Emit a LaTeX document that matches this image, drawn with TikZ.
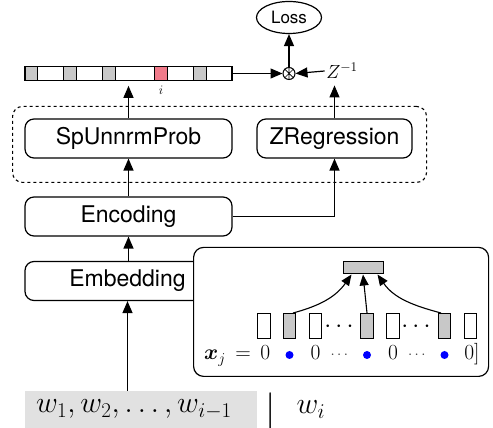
\RequirePackage{fix-cm}
\documentclass[tikz,border=0pt]{standalone}
\usepackage{amsmath}
\usepackage{fontspec}
\setsansfont{TeX Gyre Heros}
\usetikzlibrary{arrows.meta,shapes.geometric}
\definecolor{cellpink}{RGB}{240,122,138}
\definecolor{cellgray}{RGB}{200,200,200}
\definecolor{wordgray}{RGB}{225,225,225}
\begin{document}
\begin{tikzpicture}[x=1pt,y=1pt,
  box/.style={draw, line width=1.2pt, rounded corners=9pt, minimum height=39pt, inner sep=0pt, font=\sffamily\fontsize{23}{27}\selectfont},
  arr/.style={line width=1.2pt, -{Triangle[length=12pt,width=10pt]}},
  sarr/.style={line width=1.1pt, -{Triangle[length=11pt,width=9pt]}},
  cell/.style={draw, line width=1pt, minimum width=12.5pt, minimum height=25pt, inner sep=0pt},
  mth/.style={font=\fontsize{21.5}{21.5}\selectfont, inner sep=0pt},
  sdots/.style={font=\fontsize{15}{15}\selectfont, inner sep=0pt, text=black!75},
  bdot/.style={circle, fill=blue, minimum size=8pt, inner sep=0pt}]
\useasboundingbox (0,0) rectangle (493,428);

% input words
\node[fill=wordgray, minimum width=232pt, minimum height=37pt, inner sep=0pt, font=\fontsize{30}{30}\selectfont] (words) at (141,18.5) {\hspace*{-14pt}$w_1, w_2, \ldots, w_{i-1}$};
\node[font=\fontsize{37}{37}\selectfont, inner sep=0pt] (midbar) at (271,17) {$|$};
\node[font=\fontsize{30}{30}\selectfont, inner sep=0pt, anchor=base] (wi) at (311,14) {$w_i$};

% embedding
\node[box, minimum width=205pt] (emb) at (127.5,147) {Embedding};
\draw[arr] (emb.south |- words.north) -- (emb.south);

% inset
\node[draw, fill=white, line width=1.2pt, rounded corners=10pt, minimum width=295pt, minimum height=129pt, inner sep=0pt, anchor=south west] (inset) at (193,51) {};
\node[draw, fill=cellgray, line width=1pt, minimum width=40pt, minimum height=12pt, inner sep=0pt] (top) at (363,160) {};
\node[cell] (c1) at (264,102) {};
\node[cell, fill=cellgray] (c2) at (289.5,102) {};
\node[cell] (c3) at (315.5,102) {};
\node[cell, fill=cellgray] (c4) at (367,102) {};
\node[cell] (c5) at (393,102) {};
\node[cell, fill=cellgray] (c6) at (444.5,102) {};
\node[cell] (c7) at (470.5,102) {};
\node[font=\fontsize{25}{25}\selectfont, inner sep=0pt, anchor=base] (d1) at (341,95) {$\cdots$};
\node[font=\fontsize{25}{25}\selectfont, inner sep=0pt, anchor=base] (d2) at (418,95) {$\cdots$};
\draw[sarr] ([xshift=3.5pt]c2.north) to[out=15,in=235] ([xshift=9pt]top.south west);
\draw[sarr] (c4.north) -- (top.south);
\draw[sarr] ([xshift=-3.5pt]c6.north) to[out=165,in=305] ([xshift=-6pt]top.south east);
\node[mth, anchor=base east] (xj) at (270.5,68) {$\boldsymbol{x}_j \,=\, 0$};
\node[bdot] (b1) at (289.5,73) {};
\node[mth, anchor=base] (z1) at (315.5,68) {$0$};
\node[sdots] (e1) at (340.5,73) {$\cdots$};
\node[bdot] (b2) at (367,73) {};
\node[mth, anchor=base] (z2) at (393,68) {$0$};
\node[sdots] (e2) at (418,73) {$\cdots$};
\node[bdot] (b3) at (444.5,73) {};
\node[mth, anchor=base] (z3) at (472,68) {$0]$};

% encoding
\node[box, minimum width=207pt] (enc) at (128.5,211.5) {Encoding};
\draw[arr] (enc.south |- emb.north) -- (enc.south);

% group
\node[draw, line width=1.1pt, dash pattern=on 3pt off 3pt, rounded corners=10pt, minimum width=414pt, minimum height=76pt, inner sep=0pt, anchor=south west] (grp) at (12,245) {};
\node[box, minimum width=207pt] (sp) at (128.5,289.5) {SpUnnrmProb};
\node[box, minimum width=155pt] (zr) at (334.5,289.5) {ZRegression};
\draw[arr] (enc.north) -- (sp.south);
\draw[arr] (enc.east) -| (zr.south);

% output bar
\foreach \a/\b/\c in {25/37.3/cellgray, 37.3/63.3/white, 63.3/76.7/cellgray, 76.7/102/white, 102/115/cellgray, 115/154/white, 154/167/cellpink, 167/193/white, 193/206/cellgray, 206/232/white}
  \draw[fill=\c, line width=1pt] (\a,347.75) rectangle (\b,361.25);
\node[draw, line width=1.2pt, minimum width=207pt, minimum height=13.5pt, inner sep=0pt] (bar) at (128.5,354.5) {};
\node[font=\fontsize{13}{13}\selectfont, inner sep=0pt] (ilab) at (161,338) {$i$};
\draw[arr, shorten >=5pt] (sp.north) -- (sp.north |- bar.south);

% combination
\node[circle, draw, line width=1pt, minimum size=12pt, inner sep=0pt] (ot) at (289,354.5) {};
\draw[line width=0.7pt] (ot.north west) -- (ot.south east) (ot.north east) -- (ot.south west) (ot.north) -- (ot.south);
\node[font=\fontsize{19}{19}\selectfont, inner sep=1.5pt] (zinv) at (342,357) {$Z^{-1}$};
\node[ellipse, draw, line width=1.2pt, minimum width=65pt, minimum height=32pt, inner sep=0pt, font=\sffamily\fontsize{17}{17}\selectfont] (loss) at (289,410.5) {Loss};
\draw[arr] (bar.east) -- (ot.west);
\draw[arr] (zinv.west) -- (ot.east);
\draw[arr] (ot.north) -- (loss.south);
\draw[arr, shorten >=5pt] (zr.north) -- (zr.north |- zinv.south);
\end{tikzpicture}
\end{document}
